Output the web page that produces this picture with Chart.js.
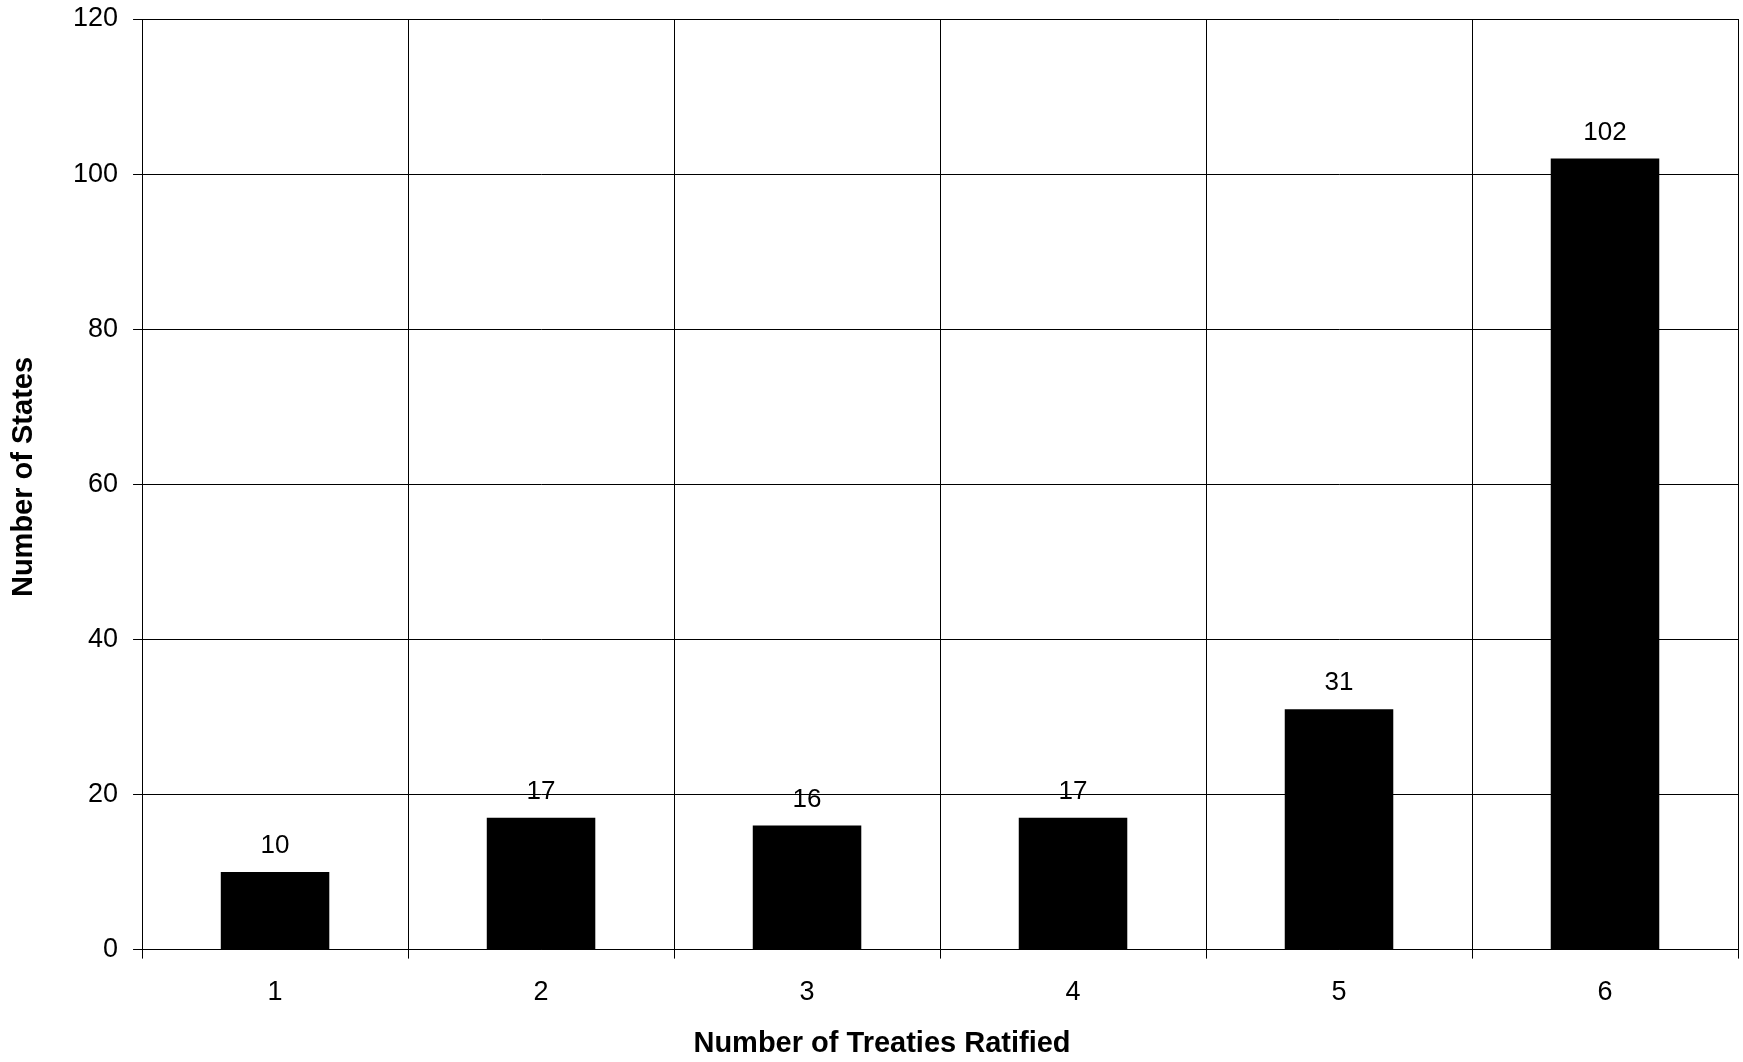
<!DOCTYPE html>
<html>
<head>
<meta charset="utf-8">
<script src="https://cdn.jsdelivr.net/npm/chart.js"></script>
<style>
  body { margin: 0; background: #fff; }
  #wrap { width: 1743px; height: 1062px; }
</style>
</head>
<body>
<div id="wrap"><canvas id="treatyChart" width="1743" height="1062"></canvas></div>
<script>
const categories = ['1', '2', '3', '4', '5', '6'];
const stateCounts = [10, 17, 16, 17, 31, 102];
const yTicks = [0, 20, 40, 60, 80, 100, 120];
const xTitle = 'Number of Treaties Ratified';
const yTitle = 'Number of States';

const FONT = "'Liberation Sans', Arial, sans-serif";

// value above each bar
const barLabels = {
  id: 'barLabels',
  afterDatasetsDraw(chart) {
    const ctx = chart.ctx;
    const meta = chart.getDatasetMeta(0);
    ctx.save();
    ctx.font = '26px ' + FONT;
    ctx.fillStyle = '#000';
    ctx.textAlign = 'center';
    ctx.textBaseline = 'middle';
    meta.data.forEach((bar, i) => {
      ctx.fillText(String(stateCounts[i]), bar.x, bar.y - 26);
    });
    ctx.restore();
  }
};

// axis titles, placed like the excel original (centred on the page, not the plot)
const axisTitles = {
  id: 'axisTitles',
  afterDraw(chart) {
    const ctx = chart.ctx;
    ctx.save();
    ctx.font = 'bold 29px ' + FONT;
    ctx.fillStyle = '#000';
    ctx.textAlign = 'center';
    ctx.textBaseline = 'middle';
    ctx.fillText(xTitle, 882, 1044);
    ctx.translate(24, 477);
    ctx.rotate(-Math.PI / 2);
    ctx.fillText(yTitle, 0, 0);
    ctx.restore();
  }
};

new Chart(document.getElementById('treatyChart').getContext('2d'), {
  type: 'bar',
  data: {
    labels: categories,
    datasets: [{
      data: stateCounts,
      backgroundColor: '#000',
      borderWidth: 0,
      barPercentage: 0.408,
      categoryPercentage: 1.0
    }]
  },
  options: {
    responsive: false,
    devicePixelRatio: 1,
    animation: false,
    layout: { padding: { left: 58, right: 5, top: 0, bottom: 35 } },
    plugins: {
      legend: { display: false },
      tooltip: { enabled: false }
    },
    scales: {
      x: {
        grid: { color: '#000', lineWidth: 1, tickLength: 9, offset: true },
        border: { color: '#000', width: 1 },
        ticks: { color: '#000', font: { family: FONT, size: 27 }, padding: 18 }
      },
      y: {
        min: 0,
        max: 120,
        afterBuildTicks: (axis) => { axis.ticks = yTicks.map(v => ({ value: v })); },
        afterFit: (axis) => { axis.paddingTop = 19; },
        grid: { color: '#000', lineWidth: 1, tickLength: 9 },
        border: { color: '#000', width: 1 },
        ticks: { color: '#000', font: { family: FONT, size: 27 }, padding: 15 }
      }
    }
  },
  plugins: [barLabels, axisTitles]
});
</script>
</body>
</html>
